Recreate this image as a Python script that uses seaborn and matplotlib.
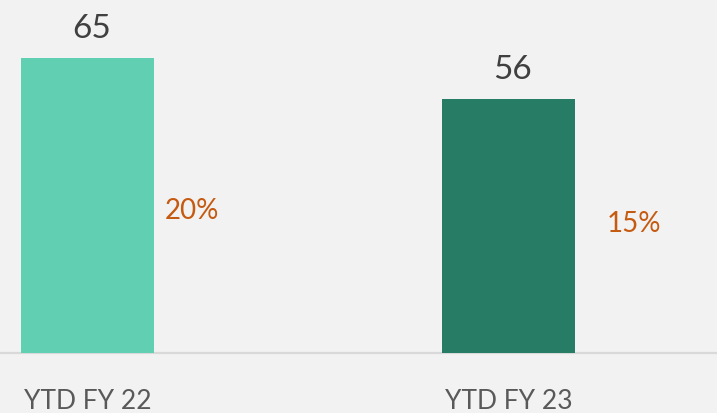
import pandas as pd
import matplotlib.pyplot as plt
import seaborn as sns

# values
periods = ["YTD FY 22", "YTD FY 23"]
values = [65, 56]
shares = [20, 15]
bar_colors = ["#61CFB2", "#267C65"]

df = pd.DataFrame({"period": periods, "value": values})

sns.set_theme(style="white")
plt.rcParams["font.family"] = ["Lato", "DejaVu Sans"]

fig = plt.figure(figsize=(7.17, 4.14), dpi=100, facecolor="#F2F2F2")
ax = fig.add_axes([0, 60 / 414, 1, 354 / 414])
ax.set_facecolor("#F2F2F2")

sns.barplot(data=df, x="period", y="value", hue="period", palette=bar_colors,
            width=0.316, legend=False, saturation=1, linewidth=0, ax=ax)

ax.set_xlim(-0.208, 1.495)
ax.set_ylim(0, 78)

# value labels above the bars
for i, v in enumerate(values):
    ax.annotate(str(v), xy=(i, v), xytext=(4, 21), textcoords="offset pixels",
                ha="center", va="baseline", fontsize=24, color="#404040")

# percentage labels to the right of each bar
share_pos = [(0.184, 31.6), (1.232, 28.7)]
for (x, y), s in zip(share_pos, shares):
    ax.text(x, y, f"{s}%", ha="left", va="center", fontsize=20, color="#C55A11")

for side in ["top", "right", "left"]:
    ax.spines[side].set_visible(False)
ax.spines["bottom"].set_color("#D9D9D9")
ax.spines["bottom"].set_linewidth(1.6)
ax.spines["bottom"].set_zorder(0)

ax.set_yticks([])
ax.set_xlabel("")
ax.set_ylabel("")
ax.tick_params(axis="x", length=0, pad=25, labelsize=19, labelcolor="#595959")

plt.savefig("out.png", dpi=100, facecolor=fig.get_facecolor())
